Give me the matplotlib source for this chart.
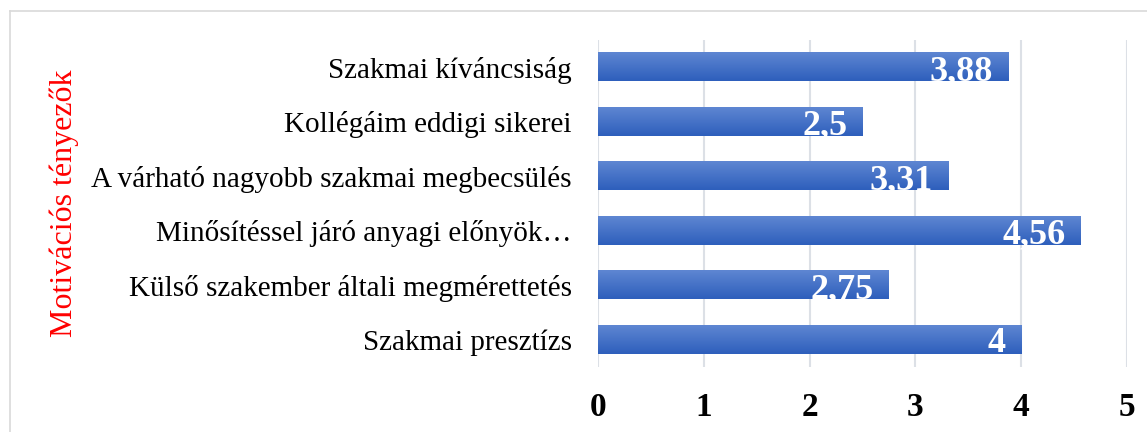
import numpy as np
import matplotlib
matplotlib.use('Agg')
import matplotlib.pyplot as plt
from matplotlib.colors import LinearSegmentedColormap
from matplotlib.lines import Line2D

#Chart data, top bar first
categories = ['Szakmai kíváncsiság',
              'Kollégáim eddigi sikerei',
              'A várható nagyobb szakmai megbecsülés',
              'Minősítéssel járó anyagi előnyök…',
              'Külső szakember általi megmérettetés',
              'Szakmai presztízs']
values = [3.88, 2.5, 3.31, 4.56, 2.75, 4]
value_labels = ['3,88', '2,5', '3,31', '4,56', '2,75', '4']
x_ticks = [0, 1, 2, 3, 4, 5]
y_title = 'Motivációs tényezők'

plt.rcParams['font.family'] = ['Liberation Serif', 'DejaVu Serif']

fig = plt.figure(figsize=(11.47, 4.32), dpi=100)
ax = fig.add_axes([0.5214, 0.1505, 0.4612, 0.7569])

pos = np.arange(len(categories))
bars = ax.barh(pos, values, height=0.52, color='#4472C4', zorder=2)

#vertical gradient on each bar (lighter on top)
grad = LinearSegmentedColormap.from_list('g', ['#2E5FBC', '#5E86D2'])
for b in bars:
    x0, y0 = b.get_x(), b.get_y()
    w, h = b.get_width(), b.get_height()
    ax.imshow(np.linspace(0, 1, 50).reshape(-1, 1), cmap=grad, aspect='auto',
              extent=(x0, x0 + w, y0 + h, y0), origin='lower', zorder=3)
    b.set_alpha(0)

for p, v, lab in zip(pos, values, value_labels):
    ax.annotate(lab, (v, p), xytext=(-11, -3), textcoords='offset points',
                ha='right', va='center', color='white', fontsize=26,
                fontweight='bold', zorder=4)

ax.set_xlim(0, 5)
ax.set_ylim(len(categories) - 0.5, -0.5)
ax.set_xticks(x_ticks)
ax.set_xticklabels([str(t) for t in x_ticks], fontsize=24, fontweight='bold')
ax.set_yticks(pos)
ax.set_yticklabels(categories, fontsize=21)
ax.tick_params(axis='both', length=0)
ax.tick_params(axis='y', pad=19)
ax.tick_params(axis='x', pad=18)
ax.grid(axis='x', color='#DCE0E6', linewidth=1.5, zorder=0)
ax.set_axisbelow(True)
for s in ax.spines.values():
    s.set_visible(False)

fig.text(64 / 1147, 0.530, y_title, rotation=90, color='red', fontsize=23,
         ha='center', va='center')

#light frame around the chart area
fig.add_artist(Line2D([10 / 1147, 1.0], [1 - 11 / 432, 1 - 11 / 432],
                      color='#D9D9D9', linewidth=1.2))
fig.add_artist(Line2D([10 / 1147, 10 / 1147], [0, 1 - 11 / 432],
                      color='#D9D9D9', linewidth=1.2))

fig.savefig('out.png', dpi=100)
